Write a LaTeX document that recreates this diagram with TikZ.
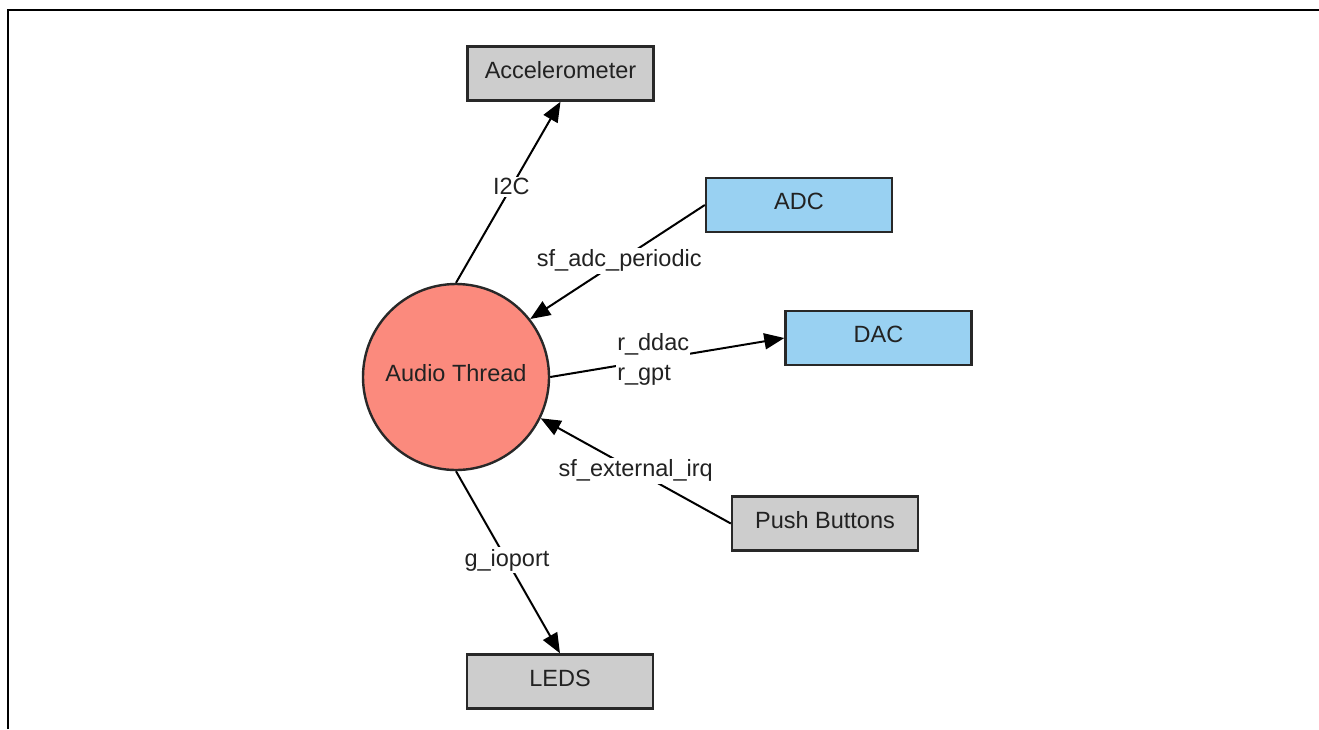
\documentclass[tikz,border=0pt]{standalone}
\usepackage{fontspec}
\setmainfont{Liberation Sans}
\usetikzlibrary{arrows.meta}
\definecolor{salmon}{RGB}{251,138,125}
\definecolor{lblue}{RGB}{153,209,242}
\definecolor{lgray}{RGB}{205,205,205}
\definecolor{edge}{RGB}{40,40,40}
\definecolor{txt}{RGB}{34,34,34}
\tikzset{
  every node/.style={font=\fontsize{23.5}{27}\selectfont, text=txt},
  upshift/.style={text height=17pt, text depth=8pt},
  box/.style={draw=edge, line width=2.4pt, minimum width=186pt, minimum height=54pt, inner sep=0pt, upshift},
  graybox/.style={box, fill=lgray},
  bluebox/.style={box, fill=lblue},
  conn/.style={draw=black, line width=2pt, -{Triangle[length=20pt,width=16pt]}},
  lbl/.style={fill=white, inner sep=2pt, align=left},
}
\begin{document}
\begin{tikzpicture}[x=1pt,y=-1pt]
\useasboundingbox (0,0) rectangle (1319,729);
\fill[white] (0,0) rectangle (1319,729);
\draw[line width=2.2pt] (8,729) -- (8,10) -- (1319,10);

\node[circle, draw=edge, line width=2.4pt, fill=salmon, minimum size=186pt, inner sep=0pt, upshift] (audio) at (456,377) {Audio Thread};

\node[graybox] (acc) at (560.5,73.5) {Accelerometer};
\node[bluebox] (adc) at (799,205) {ADC};
\node[bluebox] (dac) at (878.5,338) {DAC};
\node[graybox] (push) at (825,523.5) {Push Buttons};
\node[graybox] (leds) at (560,681.5) {LEDS};

\draw[conn] (audio.90) -- node[lbl, pos=0.53] (l1) {I2C} (acc.south);
\draw[conn] (adc.west) -- node[lbl, pos=0.49] (l2) {sf\_adc\_periodic} (audio.38);
\draw[conn] (audio.0) -- node[lbl, pos=0.44, inner sep=1pt] (l3) {r\_ddac\\[3pt]r\_gpt} (dac.west);
\draw[conn] (push.west) -- node[lbl, pos=0.5] (l4) {sf\_external\_irq} (audio.-26);
\draw[conn] (audio.south) -- node[lbl, pos=0.49] (l5) {g\_ioport} (leds.north);
\end{tikzpicture}
\end{document}
